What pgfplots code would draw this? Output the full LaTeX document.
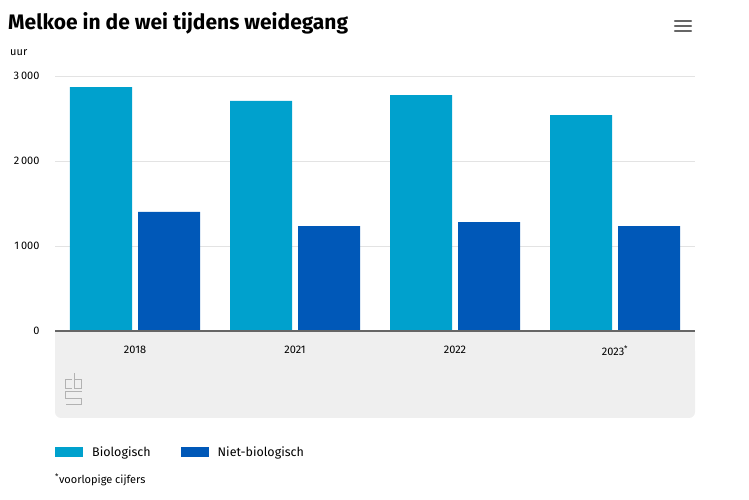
\documentclass[border=0pt]{standalone}
\usepackage{fontspec}
\setmainfont{Fira Sans}
\usepackage{pgfplots}
\pgfplotsset{compat=1.18}
\usetikzlibrary{calc}
\pgfdeclarelayer{background}
\pgfsetlayers{background,main}
\definecolor{bio}{HTML}{00A1CD}
\definecolor{niet}{HTML}{0058B8}
\definecolor{boxgray}{HTML}{EFEFEF}
\definecolor{axgray}{HTML}{666666}
\begin{document}
\begin{tikzpicture}
\begin{axis}[
  name=ax,
  scale only axis, width=640pt, height=255pt,
  ybar=6pt, bar width=62pt,
  xmin=-0.5, xmax=3.5, ymin=0, ymax=3000,
  xtick={0,1,2,3},
  xticklabels={2018,2021,2022,2023\textsuperscript{*}},
  ytick={0,1000,2000,3000},
  yticklabels={0,1\,000,2\,000,3\,000},
  ymajorgrids, grid style={draw=black!11, line width=0.8pt},
  axis line style={draw=none},
  major tick length=0pt,
  tick label style={font=\fontsize{11}{13}\selectfont},
  xticklabel style={yshift=-11pt},
  yticklabel style={xshift=-12pt},
  legend style={at={(0,-0.4745)}, anchor=west, draw=none, fill=none,
    legend columns=2, font=\fontsize{12.5}{14}\selectfont, inner sep=0pt,
    /tikz/every odd column/.append style={column sep=7pt},
    /tikz/every even column/.append style={column sep=28pt}},
  legend cell align=left,
  legend image code/.code={\fill[#1] (0pt,-5pt) rectangle (28pt,5pt);},
]
\addplot[fill=bio, draw=none] coordinates {(0,2870) (1,2706) (2,2776) (3,2541)};
\addplot[fill=niet, draw=none] coordinates {(0,1400) (1,1235) (2,1282) (3,1235)};
\legend{Biologisch, Niet-biologisch}
\end{axis}
\begin{scope}[x=1pt,y=1pt,shift={($(ax.south west)+(-55pt,331pt)$)}]
\path[use as bounding box] (0,0) rectangle (749,-500);
\begin{pgfonlayer}{background}
\fill[boxgray] (55,-331) rectangle (695,-370);
\fill[boxgray, rounded corners=6pt] (55,-345) rectangle (695,-418);
\end{pgfonlayer}
\draw[axgray, line width=1.5pt] (55,-331) -- (695,-331);
% title and unit
\node[anchor=base west, inner sep=0pt, font=\bfseries\fontsize{21}{25}\selectfont] at (8,-30) {Melkoe in de wei tijdens weidegang};
\node[anchor=base west, inner sep=0pt, font=\fontsize{11}{13}\selectfont] at (10,-56) {uur};
% menu icon
\foreach \yy in {-21,-26,-31} \draw[axgray, line width=2.4pt, line cap=round] (675,\yy) -- (691,\yy);
% cbs logo
\begin{scope}[draw=gray!60, line width=0.7pt, double=boxgray, double distance=1.3pt]
\draw (72,-379) -- (65.5,-379) -- (65.5,-388.5) -- (72,-388.5);
\draw (74.5,-373.5) -- (74.5,-388.5) -- (81.5,-388.5) -- (81.5,-379) -- (74.5,-379);
\draw (81.5,-391.5) -- (65.5,-391.5) -- (65.5,-398) -- (81.5,-398) -- (81.5,-404.5) -- (65.5,-404.5);
\end{scope}
\node[anchor=base west, inner sep=0pt, font=\fontsize{11}{13}\selectfont] at (55,-483) {\textsuperscript{*}voorlopige cijfers};
\end{scope}
\end{tikzpicture}
\end{document}
